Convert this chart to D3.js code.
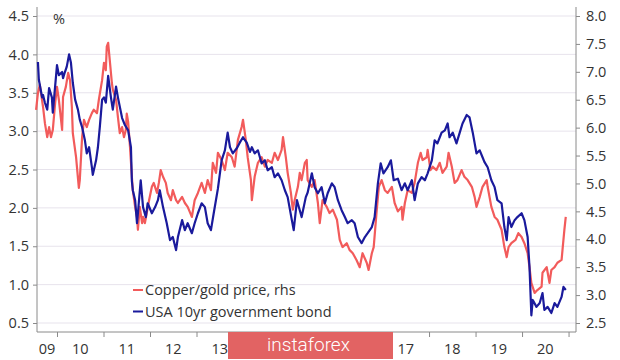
<!DOCTYPE html>
<html><head><meta charset="utf-8">
<script src="https://cdn.jsdelivr.net/npm/d3@7/dist/d3.min.js"></script>
<style>
html,body{margin:0;padding:0;background:#fff;}
svg{display:block;font-family:"Open Sans",sans-serif;}
</style></head>
<body>
<svg id="chart" width="620" height="360"></svg>
<script>
// ---- data (decimal years) ----
const usaDates = [2009.59,2009.61,2009.68,2009.70,2009.74,2009.79,2009.83,2009.89,2009.91,2010.00,2010.04,2010.11,2010.13,2010.17,2010.21,2010.26,2010.30,2010.34,2010.39,2010.45,2010.49,2010.54,2010.60,2010.64,2010.69,2010.75,2010.77,2010.84,2010.88,2010.92,2010.97,2011.01,2011.05,2011.10,2011.16,2011.20,2011.27,2011.31,2011.40,2011.46,2011.53,2011.59,2011.61,2011.63,2011.68,2011.72,2011.74,2011.80,2011.85,2011.91,2011.95,2012.04,2012.11,2012.17,2012.21,2012.28,2012.36,2012.43,2012.49,2012.56,2012.60,2012.69,2012.75,2012.81,2012.90,2012.96,2013.03,2013.11,2013.18,2013.24,2013.31,2013.37,2013.46,2013.54,2013.61,2013.67,2013.72,2013.78,2013.87,2013.93,2014.00,2014.08,2014.15,2014.19,2014.25,2014.32,2014.40,2014.47,2014.53,2014.62,2014.68,2014.75,2014.83,2014.90,2014.96,2015.05,2015.09,2015.16,2015.22,2015.26,2015.35,2015.39,2015.48,2015.54,2015.61,2015.69,2015.76,2015.82,2015.91,2015.97,2016.04,2016.12,2016.19,2016.25,2016.34,2016.40,2016.47,2016.55,2016.62,2016.68,2016.77,2016.83,2016.90,2016.96,2017.02,2017.11,2017.18,2017.24,2017.33,2017.41,2017.48,2017.54,2017.63,2017.69,2017.76,2017.84,2017.91,2017.97,2018.06,2018.12,2018.18,2018.27,2018.34,2018.40,2018.44,2018.51,2018.59,2018.66,2018.72,2018.81,2018.87,2018.94,2019.02,2019.09,2019.15,2019.19,2019.26,2019.34,2019.41,2019.47,2019.56,2019.62,2019.67,2019.71,2019.77,2019.84,2019.90,2019.99,2020.05,2020.12,2020.16,2020.20,2020.23,2020.31,2020.38,2020.44,2020.48,2020.55,2020.63,2020.70,2020.76,2020.85,2020.89,2020.94];
const usaYield = [3.90,3.67,3.44,3.47,3.37,3.28,3.56,3.44,3.24,3.86,3.73,3.77,3.69,3.77,3.84,4.00,3.89,3.63,3.41,3.28,3.15,3.05,2.88,2.71,2.79,2.53,2.43,2.62,2.79,3.05,3.41,3.44,3.37,3.72,3.44,3.28,3.58,3.44,3.17,3.08,3.01,2.79,2.35,2.23,2.10,1.80,1.93,2.36,2.01,1.88,2.06,1.93,2.01,2.10,2.23,2.01,1.80,1.58,1.62,1.45,1.62,1.84,1.71,1.80,1.67,1.80,1.93,2.06,2.01,1.80,1.71,1.93,2.25,2.62,2.75,2.98,2.79,2.71,2.78,2.85,2.92,2.85,2.73,2.79,2.71,2.75,2.58,2.62,2.49,2.53,2.40,2.45,2.36,2.23,2.14,1.84,1.71,2.10,1.97,1.88,2.14,2.20,2.45,2.27,2.19,2.27,2.06,2.19,2.32,2.27,2.10,1.97,1.88,1.80,1.84,1.80,1.62,1.54,1.62,1.67,1.75,1.88,2.32,2.58,2.45,2.53,2.62,2.36,2.38,2.23,2.32,2.23,2.36,2.10,2.32,2.40,2.36,2.45,2.62,2.88,2.84,2.98,3.01,3.10,2.92,2.98,2.84,2.98,3.10,3.21,3.18,2.98,2.71,2.75,2.66,2.60,2.53,2.36,2.27,2.10,2.06,1.75,1.58,1.88,1.75,1.84,1.88,1.93,1.84,1.62,1.23,0.60,0.80,0.71,0.76,0.89,0.67,0.71,0.63,0.76,0.71,0.84,0.97,0.93];

const cgDates = [2009.55,2009.59,2009.63,2009.70,2009.74,2009.79,2009.83,2009.87,2009.91,2009.96,2010.00,2010.04,2010.11,2010.13,2010.19,2010.24,2010.28,2010.32,2010.34,2010.41,2010.45,2010.47,2010.49,2010.54,2010.58,2010.64,2010.69,2010.75,2010.79,2010.86,2010.90,2010.97,2011.01,2011.05,2011.07,2011.10,2011.14,2011.18,2011.20,2011.27,2011.31,2011.35,2011.40,2011.44,2011.48,2011.50,2011.53,2011.57,2011.61,2011.63,2011.68,2011.72,2011.74,2011.78,2011.83,2011.85,2011.89,2011.93,2011.98,2012.04,2012.08,2012.15,2012.19,2012.23,2012.28,2012.34,2012.38,2012.45,2012.49,2012.56,2012.60,2012.69,2012.75,2012.81,2012.90,2012.96,2013.03,2013.11,2013.18,2013.24,2013.31,2013.35,2013.42,2013.46,2013.54,2013.61,2013.67,2013.76,2013.82,2013.89,2013.97,2014.00,2014.06,2014.10,2014.17,2014.19,2014.25,2014.32,2014.40,2014.47,2014.53,2014.62,2014.68,2014.75,2014.83,2014.86,2014.92,2014.96,2015.03,2015.07,2015.11,2015.18,2015.22,2015.26,2015.33,2015.37,2015.39,2015.48,2015.54,2015.61,2015.65,2015.71,2015.80,2015.86,2015.93,2016.02,2016.08,2016.14,2016.23,2016.29,2016.36,2016.44,2016.51,2016.57,2016.66,2016.70,2016.77,2016.81,2016.87,2016.92,2016.98,2017.05,2017.11,2017.20,2017.26,2017.33,2017.41,2017.43,2017.48,2017.54,2017.63,2017.69,2017.76,2017.82,2017.86,2017.95,2017.97,2018.03,2018.08,2018.16,2018.23,2018.29,2018.38,2018.42,2018.49,2018.55,2018.61,2018.70,2018.76,2018.83,2018.92,2018.98,2019.02,2019.09,2019.15,2019.24,2019.26,2019.34,2019.41,2019.47,2019.56,2019.62,2019.67,2019.71,2019.77,2019.86,2019.92,2019.99,2020.05,2020.12,2020.16,2020.20,2020.27,2020.33,2020.42,2020.44,2020.53,2020.59,2020.63,2020.70,2020.76,2020.85,2020.87,2020.91,2020.94];
const cgRatio = [6.32,6.62,6.77,6.37,6.08,5.83,6.01,5.83,5.96,6.44,6.73,6.50,5.96,6.55,6.73,6.98,6.85,6.37,5.90,5.47,5.10,4.92,5.06,5.83,6.14,6.01,6.14,6.26,6.32,6.26,6.50,6.85,7.16,7.03,7.45,7.52,7.16,6.80,6.68,6.50,6.19,5.90,6.01,5.83,5.96,6.25,6.10,5.65,5.12,4.88,4.58,4.40,4.17,4.58,4.29,4.40,4.29,4.47,4.70,4.94,5.01,4.83,5.01,5.24,5.12,5.01,4.83,4.70,4.88,4.70,4.65,4.76,4.65,4.58,4.40,4.70,4.83,5.01,4.83,5.06,4.88,5.37,5.19,5.55,5.42,5.24,5.55,5.47,5.30,5.78,6.01,6.14,5.78,5.47,5.06,4.70,5.12,5.37,5.47,5.30,5.42,5.37,5.55,5.42,5.60,5.83,5.47,5.19,4.83,4.53,4.70,4.94,5.19,5.06,5.37,5.42,5.06,4.94,5.06,4.65,4.29,4.70,4.58,4.47,4.53,4.35,3.99,3.86,3.93,3.81,3.75,3.63,3.50,3.75,3.58,3.45,3.75,3.86,4.47,4.94,5.06,4.88,4.83,4.94,4.65,4.50,4.58,4.35,4.65,4.88,4.83,5.01,5.37,5.55,5.42,5.47,5.60,5.24,5.30,5.24,5.37,5.19,5.30,5.55,5.30,5.01,5.06,5.24,5.12,5.06,4.94,4.76,4.58,4.76,4.94,5.06,4.94,4.58,4.40,4.35,4.17,3.86,3.68,3.86,3.93,3.99,4.11,4.04,3.93,3.75,3.50,3.22,3.04,3.09,3.15,3.40,3.50,3.22,3.45,3.50,3.58,3.63,3.81,4.17,4.40];

const leftTicks = [0.5,1.0,1.5,2.0,2.5,3.0,3.5,4.0,4.5];
const rightTicks = [2.5,3.0,3.5,4.0,4.5,5.0,5.5,6.0,6.5,7.0,7.5,8.0];
const yearTicks = [2010,2011,2012,2013,2014,2015,2016,2017,2018,2019,2020,2021];
const yearLabels = ["09","10","11","12","13","14","15","16","17","18","19","20"];
const seriesNames = ["Copper/gold price, rhs","USA 10yr government bond"];
const seriesColors = ["#f25b5b","#1a1a9c"];
const watermarkText = "instaforex";

// ---- chart ----
const svg = d3.select("#chart");
const L = 37, R = 576, T = 16, B = 323, AX = 332;
const x = d3.scaleLinear().domain([2009.57, 2021.16]).range([L, R]);
const yL = d3.scaleLinear().domain([0.5, 4.5]).range([B, T]);
const yR = d3.scaleLinear().domain([2.5, 8.0]).range([B, T]);
const textCol = "#333";
const axisCol = "#8a8a8a";
const wm = {x0: 228, x1: 393};

// gridlines
svg.append("g").selectAll("line").data(leftTicks).join("line")
  .attr("x1", L).attr("x2", R)
  .attr("y1", d => yL(d)).attr("y2", d => yL(d))
  .attr("stroke", "#e7e3ec").attr("stroke-width", 1);

// left axis
const gl = svg.append("g").attr("transform", `translate(${L},0)`)
  .call(d3.axisLeft(yL).tickValues(leftTicks).tickFormat(d3.format(".1f")).tickSize(4).tickPadding(4));
gl.select(".domain").remove();
gl.selectAll(".tick line").attr("stroke", axisCol);
gl.selectAll(".tick text").attr("fill", textCol).style("font-size", "14.5px").style("font-family", "'Open Sans',sans-serif");

// right axis
const gr = svg.append("g").attr("transform", `translate(${R},0)`)
  .call(d3.axisRight(yR).tickValues(rightTicks).tickFormat(d3.format(".1f")).tickSize(4).tickPadding(6));
gr.select(".domain").remove();
gr.selectAll(".tick line").attr("stroke", axisCol);
gr.selectAll(".tick text").attr("fill", textCol).style("font-size", "14.5px").style("font-family", "'Open Sans',sans-serif");

// bottom axis
const gb = svg.append("g").attr("transform", `translate(0,${AX})`)
  .call(d3.axisBottom(x).tickValues(yearTicks).tickFormat("").tickSize(5));
gb.select(".domain").remove();
gb.selectAll(".tick line").attr("stroke", axisCol);

const [d0, d1] = x.domain();
const labelData = yearLabels.map((d, i) => {
  const a = Math.max(2009 + i, d0), b = Math.min(2010 + i, d1);
  return {text: d, px: x((a + b) / 2)};
}).filter(d => d.px < wm.x0 - 4 || d.px > wm.x1 + 4); // labels hidden under the watermark band
svg.append("g").selectAll("text").data(labelData).join("text")
  .attr("x", d => d.px)
  .attr("y", 354)
  .attr("text-anchor", "middle")
  .attr("fill", textCol)
  .style("font-size", "14.5px")
  .text(d => d.text);

// axis lines
svg.append("line").attr("x1", L).attr("x2", L).attr("y1", 7).attr("y2", AX).attr("stroke", axisCol);
svg.append("line").attr("x1", R).attr("x2", R).attr("y1", 7).attr("y2", AX).attr("stroke", axisCol);
svg.append("line").attr("x1", L).attr("x2", R).attr("y1", AX).attr("y2", AX).attr("stroke", axisCol);

svg.append("text").attr("x", 53).attr("y", 24).attr("fill", textCol)
  .style("font-size", "14.5px").text("%");

// lines
const cgData = cgDates.map((t, i) => [t, cgRatio[i]]);
const usaData = usaDates.map((t, i) => [t, usaYield[i]]);
svg.append("path").datum(cgData)
  .attr("fill", "none").attr("stroke", seriesColors[0]).attr("stroke-width", 2.2).attr("stroke-linejoin", "round")
  .attr("d", d3.line().x(d => x(d[0])).y(d => yR(d[1])));
svg.append("path").datum(usaData)
  .attr("fill", "none").attr("stroke", seriesColors[1]).attr("stroke-width", 2.2).attr("stroke-linejoin", "round")
  .attr("d", d3.line().x(d => x(d[0])).y(d => yL(d[1])));

// legend
const lg = svg.append("g");
seriesNames.forEach((n, i) => {
  const yy = 290 + i * 21.5;
  lg.append("line").attr("x1", 133).attr("x2", 143).attr("y1", yy).attr("y2", yy)
    .attr("stroke", seriesColors[i]).attr("stroke-width", 2);
  lg.append("text").attr("x", 145).attr("y", yy + 5).attr("fill", textCol)
    .style("font-size", "14.5px").text(n);
});

// watermark
svg.append("rect").attr("x", wm.x0).attr("y", 332).attr("width", wm.x1 - wm.x0).attr("height", 27)
  .attr("fill", "#e26363");
svg.append("text").attr("x", (wm.x0 + wm.x1) / 2 - 2).attr("y", 351).attr("text-anchor", "middle")
  .attr("fill", "#fff").style("font-family", "Roboto, sans-serif").style("font-weight", 300)
  .style("font-size", "19px").text(watermarkText);
</script>
</body></html>
